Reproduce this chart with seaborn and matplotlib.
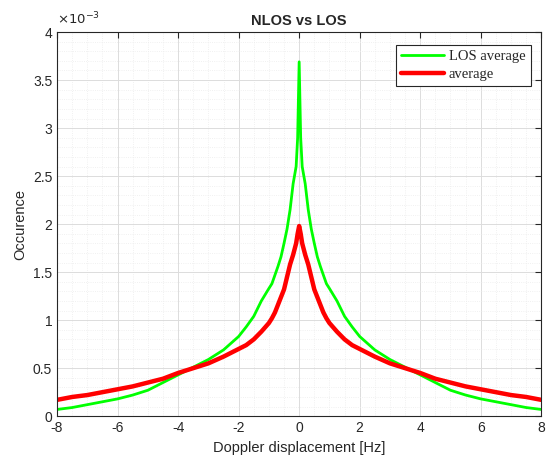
import numpy as np
import pandas as pd
import matplotlib
matplotlib.use("Agg")
import matplotlib.pyplot as plt
from matplotlib.ticker import MultipleLocator, AutoMinorLocator, FuncFormatter
import seaborn as sns

# Data (occurence values in units of 1e-3)
doppler = [-8.0, -7.5, -7.0, -6.5, -6.0, -5.5, -5.0, -4.5, -4.0, -3.5, -3.0, -2.5,
           -2.0, -1.75, -1.5, -1.25, -1.0, -0.9, -0.8, -0.7, -0.6, -0.5, -0.4, -0.3,
           -0.2, -0.1, -0.05, 0.0, 0.05, 0.1, 0.2, 0.3, 0.4, 0.5, 0.6, 0.7, 0.8, 0.9,
           1.0, 1.25, 1.5, 1.75, 2.0, 2.5, 3.0, 3.5, 4.0, 4.5, 5.0, 5.5, 6.0, 6.5,
           7.0, 7.5, 8.0]

los_avg = [0.07, 0.09, 0.12, 0.15, 0.18, 0.22, 0.27, 0.35, 0.43, 0.51, 0.59, 0.69,
           0.83, 0.93, 1.04, 1.20, 1.33, 1.38, 1.47, 1.56, 1.66, 1.80, 1.95, 2.15,
           2.42, 2.60, 2.90, 3.69, 2.90, 2.60, 2.42, 2.15, 1.95, 1.80, 1.66, 1.56,
           1.47, 1.38, 1.33, 1.20, 1.04, 0.93, 0.83, 0.69, 0.59, 0.51, 0.43, 0.35,
           0.27, 0.22, 0.18, 0.15, 0.12, 0.09, 0.07]

nlos_avg = [0.17, 0.20, 0.22, 0.25, 0.28, 0.31, 0.35, 0.39, 0.45, 0.50, 0.55, 0.62,
            0.70, 0.74, 0.80, 0.88, 0.97, 1.02, 1.08, 1.16, 1.24, 1.32, 1.45, 1.58,
            1.68, 1.80, 1.90, 1.98, 1.90, 1.80, 1.68, 1.58, 1.45, 1.32, 1.24, 1.16,
            1.08, 1.02, 0.97, 0.88, 0.80, 0.74, 0.70, 0.62, 0.55, 0.50, 0.45, 0.39,
            0.35, 0.31, 0.28, 0.25, 0.22, 0.20, 0.17]

df = pd.DataFrame({"doppler": doppler, "los": los_avg, "nlos": nlos_avg})

sns.set_style("white")
plt.rcParams["font.family"] = ["Liberation Sans", "DejaVu Sans"]

fig = plt.figure(figsize=(5.54, 4.65), dpi=100)
ax = fig.add_axes([0.103, 0.105, 0.874, 0.826])

sns.lineplot(data=df, x="doppler", y="los", ax=ax, color=(0, 1, 0), lw=2.0,
             label="LOS average")
sns.lineplot(data=df, x="doppler", y="nlos", ax=ax, color=(1, 0, 0), lw=3.2,
             label="average")

ax.set_xlim(-8, 8)
ax.set_ylim(0, 4)
ax.xaxis.set_major_locator(MultipleLocator(2))
ax.xaxis.set_minor_locator(AutoMinorLocator(4))
ax.yaxis.set_major_locator(MultipleLocator(0.5))
ax.yaxis.set_minor_locator(AutoMinorLocator(5))
ax.yaxis.set_major_formatter(FuncFormatter(lambda v, p: f"{v:g}"))
ax.xaxis.set_major_formatter(FuncFormatter(lambda v, p: f"{v:g}"))

ax.grid(which="major", color="#dcdcdc", lw=0.7)
ax.grid(which="minor", color="#ececec", lw=0.6, ls=":")
ax.set_axisbelow(True)

ax.tick_params(which="major", direction="in", length=4, top=True, right=True,
               labelsize=10, labelcolor="#262626", color="#262626")
ax.tick_params(which="minor", length=0)
for s in ax.spines.values():
    s.set_color("#262626")
    s.set_linewidth(0.8)

ax.set_xlabel("Doppler displacement [Hz]", fontsize=10.5, color="#262626")
ax.set_ylabel("Occurence", fontsize=10.5, color="#262626")
ax.set_title("NLOS vs LOS", fontsize=10.5, fontweight="bold", pad=5)
ax.text(0.0, 1.012, r"$\times10^{-3}$", transform=ax.transAxes, fontsize=9.5,
        color="#262626", ha="left", va="bottom")

leg = ax.legend(loc="upper right", bbox_to_anchor=(0.993, 0.985),
                prop={"family": "Liberation Serif", "size": 10.5},
                fancybox=False, edgecolor="#262626", framealpha=1,
                handlelength=3.0, borderpad=0.35, labelspacing=0.3,
                handletextpad=0.3)
leg.get_frame().set_linewidth(0.8)

fig.savefig("out.png", dpi=100)
